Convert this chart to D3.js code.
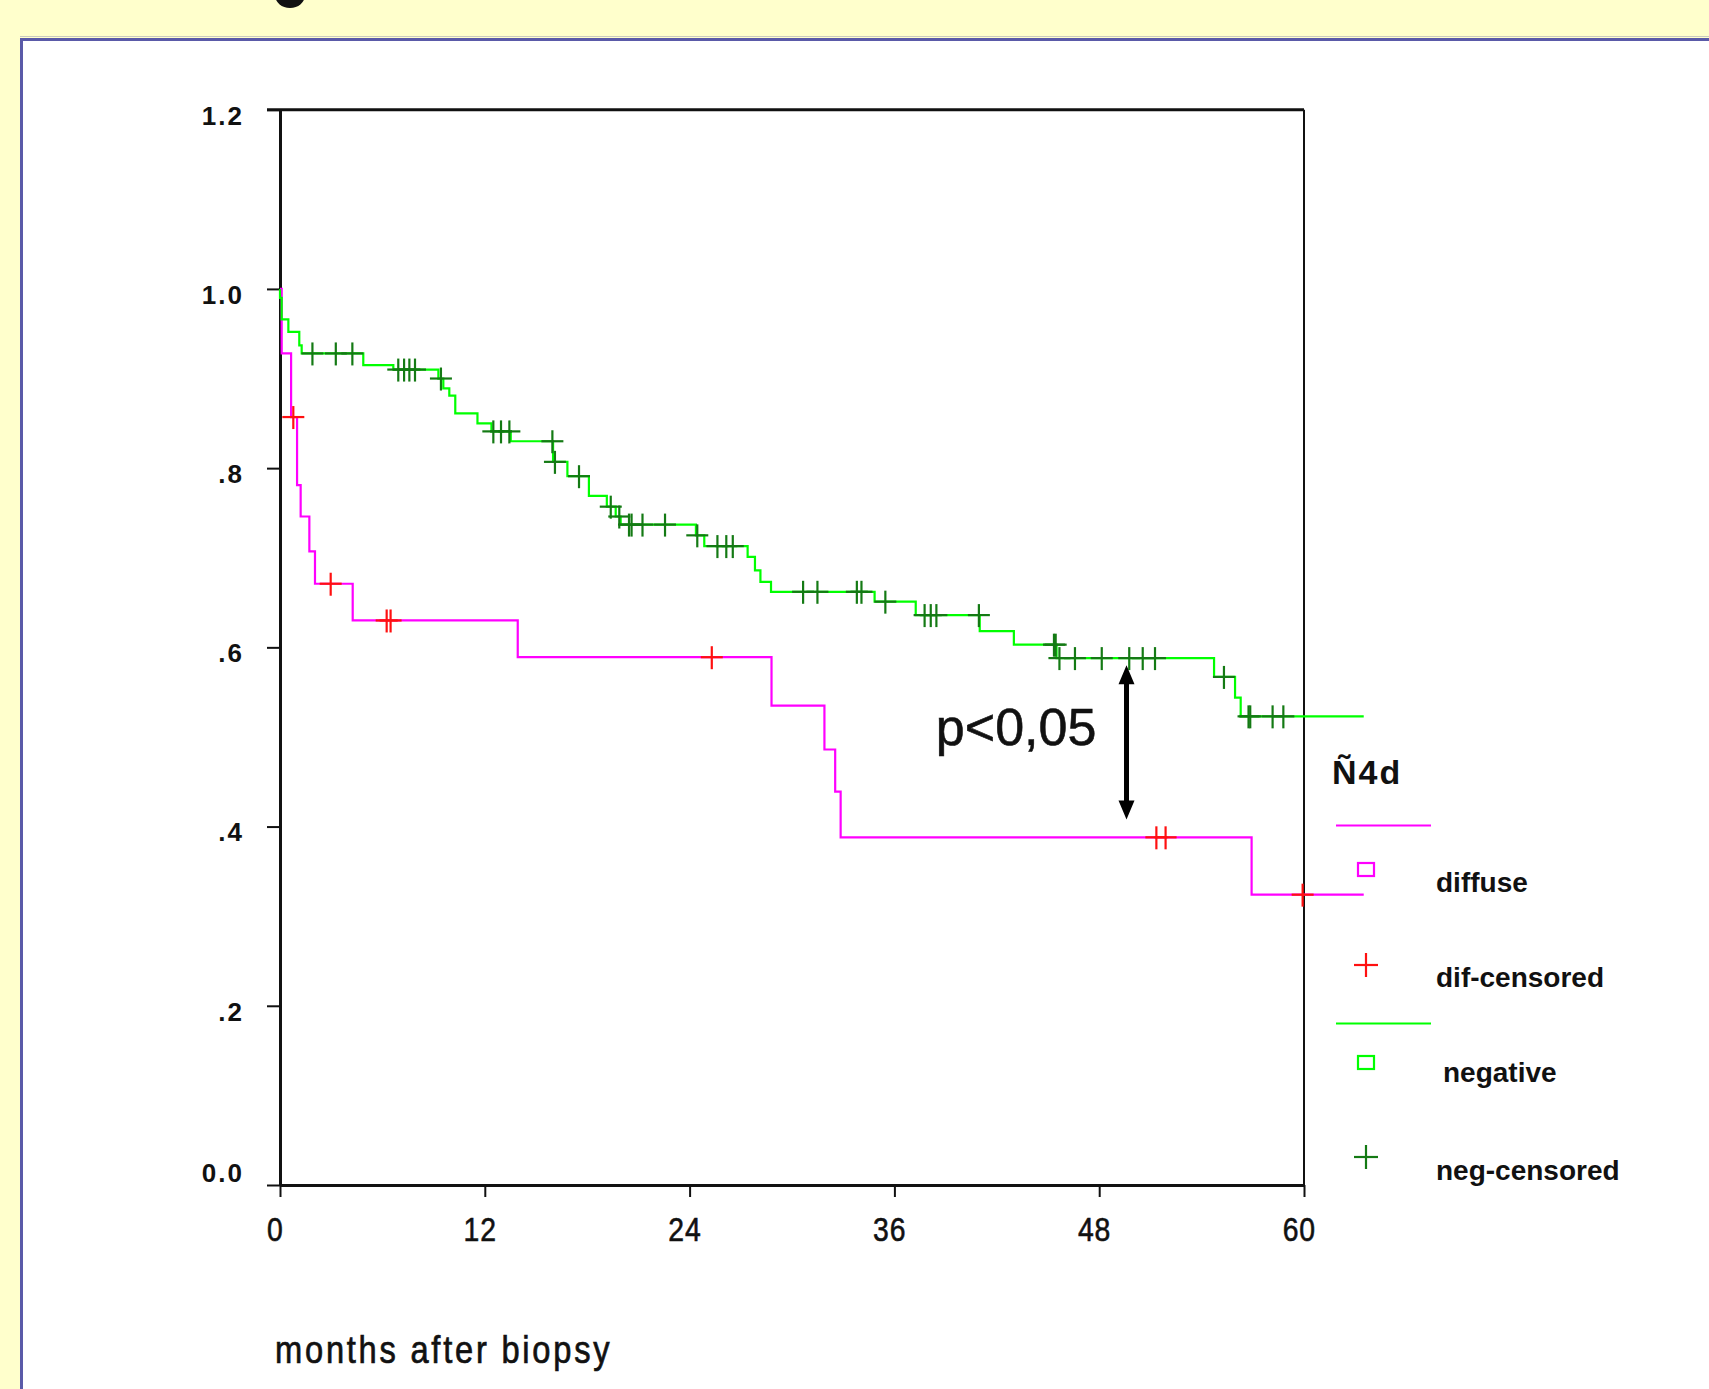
<!DOCTYPE html>
<html>
<head>
<meta charset="utf-8">
<script src="https://cdn.jsdelivr.net/npm/d3@7"></script>
<style>
body { margin: 0; background: #FFFFCC; }
svg { display: block; }
</style>
</head>
<body>
<svg id="chart" width="1709" height="1389"></svg>
<script>
// Kaplan-Meier curves, months after biopsy
var difTimes = [0, 0.1, 0.65, 1.0, 1.21, 1.72, 2.05, 4.26, 13.93, 28.8, 31.9, 32.53, 32.85, 56.93];
var difSurv  = [1.0, 0.928, 0.857, 0.781, 0.746, 0.707, 0.671, 0.630, 0.589, 0.535, 0.486, 0.439, 0.388, 0.324];
var difCensored = [0.78, 2.97, 6.25, 6.48, 25.3, 51.35, 51.89, 59.92];

var negTimes = [0, 0.1, 0.49, 1.13, 1.27, 4.88, 6.64, 9.28, 9.57, 9.92, 10.27, 11.57, 12.39, 13.52, 16.0, 16.84,
                18.1, 19.15, 19.67, 19.96, 24.37, 24.86, 27.4, 27.83, 28.15, 28.77, 34.84, 37.25, 41.0, 43.0, 45.5,
                54.73, 55.96, 56.29];
var negSurv  = [0.990, 0.966, 0.952, 0.937, 0.928, 0.915, 0.910, 0.900, 0.889, 0.881, 0.861, 0.850, 0.841, 0.830, 0.807, 0.791,
                0.769, 0.757, 0.746, 0.737, 0.725, 0.713, 0.701, 0.686, 0.673, 0.662, 0.651, 0.636, 0.618, 0.603, 0.588,
                0.567, 0.544, 0.523];
var negCensored = [1.9, 3.27, 4.24, 6.93, 7.27, 7.58, 7.91, 9.43, 12.5, 12.95, 13.44, 15.96, 16.11, 17.52, 19.38, 19.88,
                   20.45, 20.6, 21.24, 22.56, 24.45, 25.63, 26.15, 26.53, 30.65, 31.49, 33.8, 34.07, 35.47, 37.77, 38.13,
                   38.46, 40.95, 45.35, 45.45, 45.67, 46.58, 48.15, 49.76, 50.55, 51.27, 55.31, 56.75, 56.85, 58.16, 58.79];
var lastFollowUp = 63.5;

var xTicks = [0, 12, 24, 36, 48, 60];
var yTicks = [0, 0.2, 0.4, 0.6, 0.8, 1.0, 1.2];
var yTickLabels = ["0.0", ".2", ".4", ".6", ".8", "1.0", "1.2"];

var legendTitle = "Ñ4d";
var legendLabels = ["diffuse", "dif-censored", "negative", "neg-censored"];

// annotation: difference between curves
var pText = "p<0,05";
var pTextAt = [38.43, 0.491];
var arrowAt = [49.6, 0.58, 0.408];

var sans = "'Liberation Sans', Arial, sans-serif";

var svg = d3.select('#chart');

// slide background + white panel
svg.append('rect').attr('width', 1709).attr('height', 1389).attr('fill', '#FFFFCC');
svg.append('ellipse').attr('cx', 290).attr('cy', -5).attr('rx', 15).attr('ry', 13).attr('fill', '#111');
svg.append('line').attr('x1', 20).attr('x2', 1709).attr('y1', 36.5).attr('y2', 36.5)
    .attr('stroke', '#c9c9c0').attr('stroke-width', 1);
svg.append('rect').attr('x', 21.5).attr('y', 39.5).attr('width', 1720).attr('height', 1400)
    .attr('fill', 'white').attr('stroke', '#5a5aa8').attr('stroke-width', 3);

var x = d3.scaleLinear().domain([0, 60]).range([280, 1304]);
var y = d3.scaleLinear().domain([0, 1.2]).range([1185, 109.7]);

// y axis
var yAxis = svg.append('g')
    .attr('transform', 'translate(280,0)')
    .call(d3.axisLeft(y).tickValues(yTicks).tickFormat(function(d, i) { return yTickLabels[i]; })
        .tickSize(13).tickSizeOuter(0));
yAxis.select('.domain').attr('stroke', '#111').attr('stroke-width', 3);
yAxis.selectAll('.tick line').attr('stroke', '#111').attr('stroke-width', 2);
yAxis.selectAll('.tick text')
    .attr('x', -36)
    .attr('dy', function(d) { return d === 0 ? '-0.14em' : '0.55em'; })
    .attr('font-family', sans).attr('font-size', 26).attr('font-weight', 'bold')
    .attr('letter-spacing', 2).attr('fill', '#111');

// x axis
var xAxis = svg.append('g')
    .attr('transform', 'translate(0,1185)')
    .call(d3.axisBottom(x).tickValues(xTicks).tickSize(12).tickSizeOuter(0));
xAxis.select('.domain').attr('stroke', '#111').attr('stroke-width', 3);
xAxis.selectAll('.tick line').attr('stroke', '#111').attr('stroke-width', 2);
xAxis.selectAll('.tick text')
    .attr('y', 33).attr('dx', -6)
    .attr('transform', 'scale(0.86,1)')
    .attr('font-family', sans).attr('font-size', 33)
    .attr('letter-spacing', 1).attr('fill', '#111')
    .attr('stroke', '#111').attr('stroke-width', 0.6);

// frame top and right
svg.append('line').attr('x1', 267).attr('x2', x(60)).attr('y1', y(1.2)).attr('y2', y(1.2))
    .attr('stroke', '#111').attr('stroke-width', 3);
svg.append('line').attr('x1', x(60)).attr('x2', x(60)).attr('y1', y(1.2)).attr('y2', y(0))
    .attr('stroke', '#111').attr('stroke-width', 2);

svg.append('text')
    .attr('transform', 'translate(275,1363) scale(0.86,1)')
    .attr('font-family', sans).attr('font-size', 38).attr('letter-spacing', 3.2)
    .attr('fill', '#111').attr('stroke', '#111').attr('stroke-width', 0.7)
    .text('months after biopsy');

// curves
function stepPoints(times, surv) {
    var pts = times.map(function(t, i) { return [t, surv[i]]; });
    pts.unshift([0, 1]);
    pts.push([lastFollowUp, surv[surv.length - 1]]);
    return pts;
}
function survAt(times, surv, t) {
    var s = 1;
    for (var i = 0; i < times.length; i++) { if (times[i] <= t) s = surv[i]; }
    return s;
}

var line = d3.line()
    .x(function(d) { return x(d[0]); })
    .y(function(d) { return y(d[1]); })
    .curve(d3.curveStepAfter);

svg.append('path').datum(stepPoints(difTimes, difSurv))
    .attr('d', line).attr('fill', 'none').attr('stroke', '#FF00FF').attr('stroke-width', 2.2);
svg.append('path').datum(stepPoints(negTimes, negSurv))
    .attr('d', line).attr('fill', 'none').attr('stroke', '#00FF00').attr('stroke-width', 2.2);

function drawCrosses(times, stepT, stepS, color) {
    var g = svg.append('g').attr('stroke', color).attr('stroke-width', 2.2);
    var c = g.selectAll('g').data(times).enter().append('g')
        .attr('transform', function(t) { return 'translate(' + x(t) + ',' + y(survAt(stepT, stepS, t)) + ')'; });
    c.append('line').attr('x1', -11).attr('x2', 11);
    c.append('line').attr('y1', -11).attr('y2', 12);
}
drawCrosses(negCensored, negTimes, negSurv, '#147a14');
drawCrosses(difCensored, difTimes, difSurv, '#FF1010');

// annotation
svg.append('text').attr('x', x(pTextAt[0])).attr('y', y(pTextAt[1]))
    .attr('font-family', sans).attr('font-size', 52).attr('fill', '#111')
    .attr('stroke', '#111').attr('stroke-width', 0.6).text(pText);

var ax = x(arrowAt[0]), ay1 = y(arrowAt[1]), ay2 = y(arrowAt[2]);
svg.append('line').attr('x1', ax).attr('x2', ax).attr('y1', ay1 + 12).attr('y2', ay2 - 12)
    .attr('stroke', '#000').attr('stroke-width', 5);
svg.append('path').attr('fill', '#000')
    .attr('d', 'M' + ax + ',' + ay1 + 'l-8,19h16z' + 'M' + ax + ',' + ay2 + 'l-8,-19h16z');

// legend
var legend = svg.append('g');
legend.append('text').attr('x', 1332).attr('y', 784)
    .attr('font-family', sans).attr('font-size', 34).attr('font-weight', 'bold')
    .attr('letter-spacing', 2).attr('fill', '#111')
    .text(legendTitle);
legend.append('line').attr('x1', 1336).attr('x2', 1431).attr('y1', 825.5).attr('y2', 825.5)
    .attr('stroke', '#FF00FF').attr('stroke-width', 2.2);
legend.append('line').attr('x1', 1336).attr('x2', 1431).attr('y1', 1023.5).attr('y2', 1023.5)
    .attr('stroke', '#00FF00').attr('stroke-width', 2.2);
legend.append('rect').attr('x', 1358).attr('y', 863).attr('width', 16).attr('height', 13)
    .attr('fill', 'none').attr('stroke', '#FF00FF').attr('stroke-width', 2.2);
legend.append('rect').attr('x', 1358).attr('y', 1056).attr('width', 16).attr('height', 13)
    .attr('fill', 'none').attr('stroke', '#00FF00').attr('stroke-width', 2.2);
[[1366, 965, '#FF1010'], [1366, 1157, '#147a14']].forEach(function(p) {
    var g = legend.append('g').attr('transform', 'translate(' + p[0] + ',' + p[1] + ')')
        .attr('stroke', p[2]).attr('stroke-width', 2.2);
    g.append('line').attr('x1', -12).attr('x2', 12);
    g.append('line').attr('y1', -12).attr('y2', 12);
});
var labelPos = [[1436, 892], [1436, 987], [1443, 1082], [1436, 1180]];
legend.selectAll('text.item').data(legendLabels).enter().append('text')
    .attr('class', 'item')
    .attr('x', function(d, i) { return labelPos[i][0]; })
    .attr('y', function(d, i) { return labelPos[i][1]; })
    .attr('font-family', sans).attr('font-size', 28).attr('font-weight', 'bold').attr('fill', '#111')
    .text(function(d) { return d; });
</script>
</body>
</html>
